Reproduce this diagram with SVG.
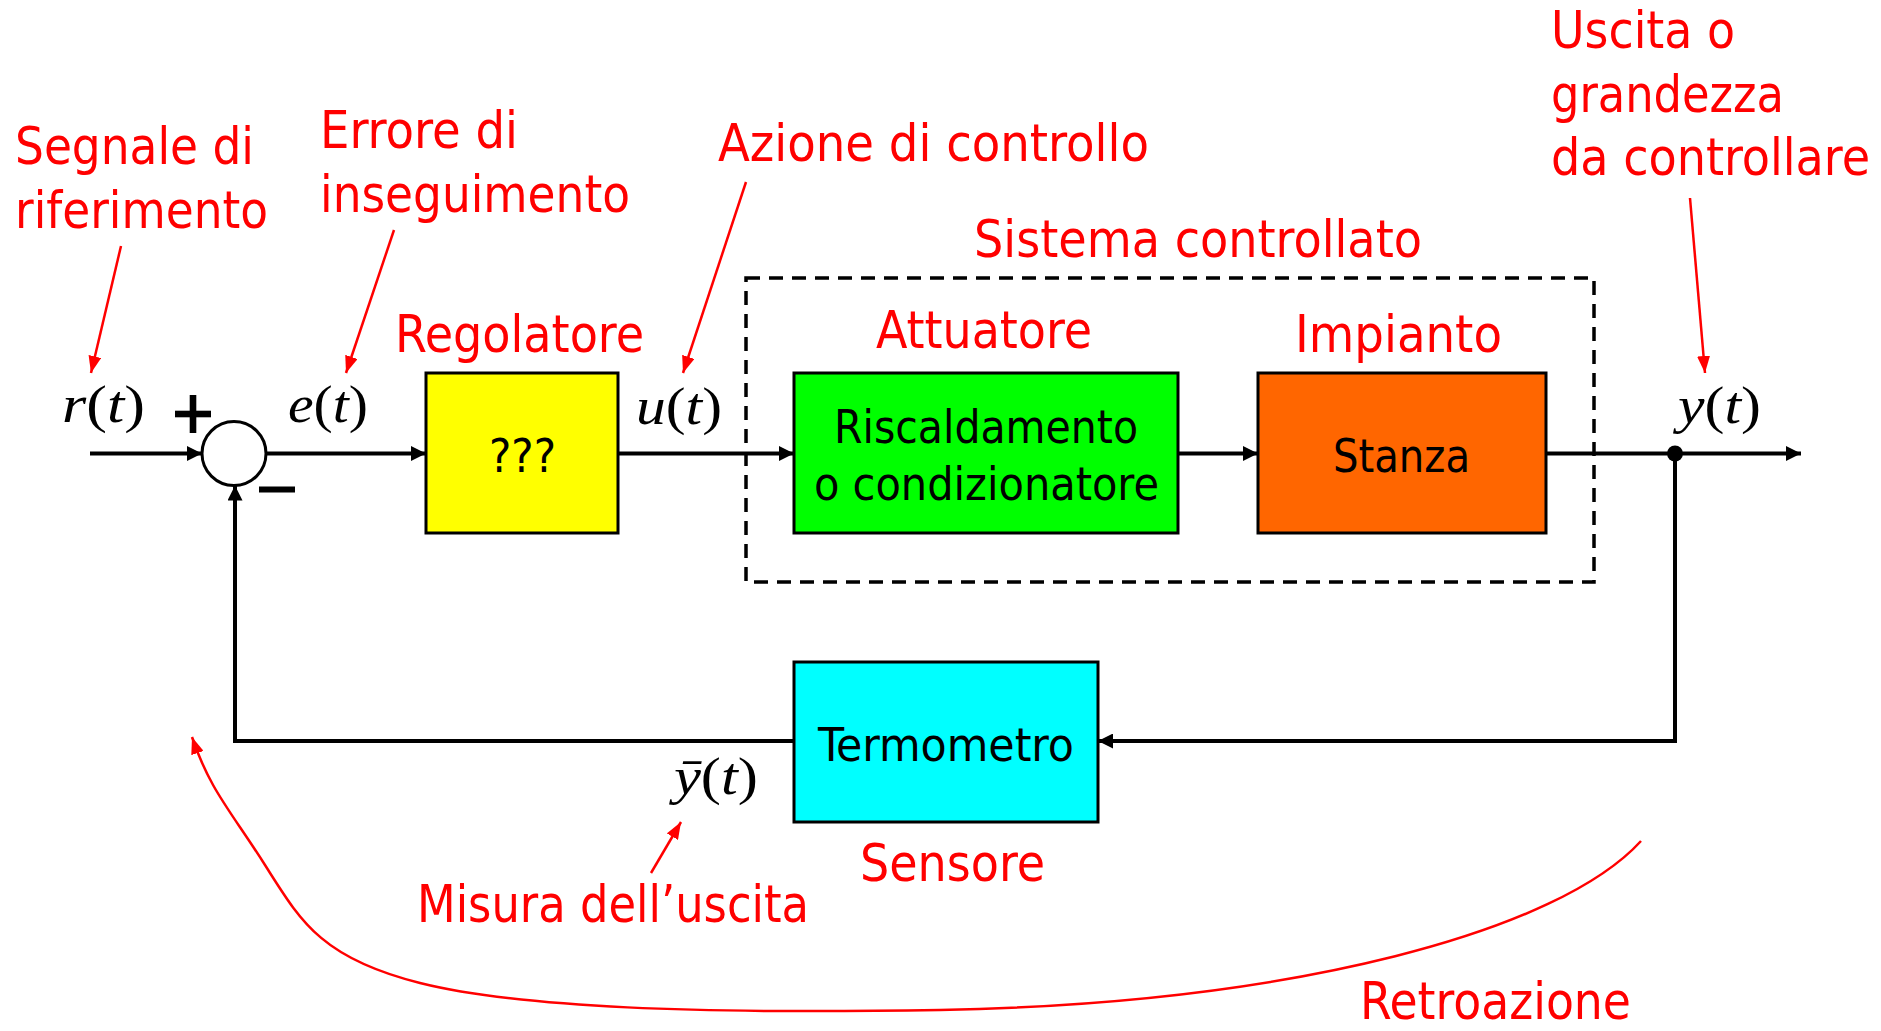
<svg xmlns="http://www.w3.org/2000/svg" width="1881" height="1031" viewBox="0 0 1881 1031">
<style>
.lbl{font-family:"DejaVu Sans Condensed","DejaVu Sans",sans-serif;font-size:51px;fill:#FF0000}
.box{stroke:#000;stroke-width:3}
.btxt{font-family:"DejaVu Sans Condensed","DejaVu Sans",sans-serif;font-size:46px;fill:#000}
.math{font-family:"Liberation Serif","DejaVu Serif",serif;font-size:52px;fill:#000}
.mi{font-style:italic}
.wire{fill:none;stroke:#000;stroke-width:4}
.red{fill:none;stroke:#FF0000;stroke-width:2.5}
</style>
<defs>
<marker id="ah" markerUnits="userSpaceOnUse" markerWidth="15" markerHeight="15" refX="15" refY="7.5" orient="auto"><path d="M0,0 L15,7.5 L0,15 z" fill="#000"/></marker>
<marker id="rh" markerUnits="userSpaceOnUse" markerWidth="17" markerHeight="13" refX="17" refY="6.5" orient="auto"><path d="M0,0 L17,6.5 L0,13 z" fill="#FF0000"/></marker>
</defs>
<rect width="1881" height="1031" fill="#fff"/>

<g id="system-boundary">
<rect x="746" y="278" width="848" height="304" fill="none" stroke="#000" stroke-width="3.5" stroke-dasharray="14 9"/>
</g>

<g id="connectors">
<path class="wire" d="M90,453.5 H202" marker-end="url(#ah)"/>
<path class="wire" d="M266,453.5 H426" marker-end="url(#ah)"/>
<path class="wire" d="M618,453.5 H794" marker-end="url(#ah)"/>
<path class="wire" d="M1178,453.5 H1258" marker-end="url(#ah)"/>
<path class="wire" d="M1546,453.5 H1801" marker-end="url(#ah)"/>
<path class="wire" d="M1675,453.5 V741 H1098" marker-end="url(#ah)"/>
<path class="wire" d="M794,741 H235 V485.5" marker-end="url(#ah)"/>
<circle cx="1675" cy="453.5" r="8" fill="#000"/>
</g>

<g id="sum">
<circle cx="234" cy="453.5" r="32" fill="#fff" stroke="#000" stroke-width="3"/>
<rect x="175" y="410.7" width="36" height="6.6" fill="#000"/>
<rect x="189.7" y="395" width="6.6" height="38" fill="#000"/>
<rect x="259" y="486.5" width="36" height="6" fill="#000"/>
</g>

<g id="regolatore">
<rect class="box" x="426" y="373" width="192" height="160" fill="#FFFF00"/>
<text class="btxt" x="489" y="472" textLength="67" lengthAdjust="spacingAndGlyphs">???</text>
</g>
<g id="attuatore">
<rect class="box" x="794" y="373" width="384" height="160" fill="#00FF00"/>
<text class="btxt" x="834" y="443" textLength="304" lengthAdjust="spacingAndGlyphs">Riscaldamento</text>
<text class="btxt" x="814" y="500" textLength="345" lengthAdjust="spacingAndGlyphs">o condizionatore</text>
</g>
<g id="impianto">
<rect class="box" x="1258" y="373" width="288" height="160" fill="#FF6600"/>
<text class="btxt" x="1333" y="472" textLength="137" lengthAdjust="spacingAndGlyphs">Stanza</text>
</g>
<g id="sensore">
<rect class="box" x="794" y="662" width="304" height="160" fill="#00FFFF"/>
<text class="btxt" x="818" y="761" textLength="256" lengthAdjust="spacingAndGlyphs">Termometro</text>
</g>

<g id="math-labels">
<text class="math" x="62" y="422" textLength="83" lengthAdjust="spacingAndGlyphs"><tspan class="mi">r</tspan>(<tspan class="mi">t</tspan>)</text>
<text class="math" x="288" y="422" textLength="80" lengthAdjust="spacingAndGlyphs"><tspan class="mi">e</tspan>(<tspan class="mi">t</tspan>)</text>
<text class="math" x="636" y="424" textLength="86" lengthAdjust="spacingAndGlyphs"><tspan class="mi">u</tspan>(<tspan class="mi">t</tspan>)</text>
<text class="math" x="1678" y="423" textLength="83" lengthAdjust="spacingAndGlyphs"><tspan class="mi">y</tspan>(<tspan class="mi">t</tspan>)</text>
<text class="math" x="674" y="794" textLength="84" lengthAdjust="spacingAndGlyphs"><tspan class="mi">ȳ</tspan>(<tspan class="mi">t</tspan>)</text>
</g>

<g id="annotations">
<text class="lbl" x="15" y="164" textLength="239" lengthAdjust="spacingAndGlyphs">Segnale di</text>
<text class="lbl" x="15" y="228" textLength="253" lengthAdjust="spacingAndGlyphs">riferimento</text>
<text class="lbl" x="320" y="148" textLength="198" lengthAdjust="spacingAndGlyphs">Errore di</text>
<text class="lbl" x="320" y="212" textLength="310" lengthAdjust="spacingAndGlyphs">inseguimento</text>
<text class="lbl" x="395" y="352" textLength="249" lengthAdjust="spacingAndGlyphs">Regolatore</text>
<text class="lbl" x="718" y="161" textLength="431" lengthAdjust="spacingAndGlyphs">Azione di controllo</text>
<text class="lbl" x="974" y="257" textLength="448" lengthAdjust="spacingAndGlyphs">Sistema controllato</text>
<text class="lbl" x="876" y="348" textLength="216" lengthAdjust="spacingAndGlyphs">Attuatore</text>
<text class="lbl" x="1295" y="352" textLength="207" lengthAdjust="spacingAndGlyphs">Impianto</text>
<text class="lbl" x="1551" y="48" textLength="184" lengthAdjust="spacingAndGlyphs">Uscita o</text>
<text class="lbl" x="1551" y="112" textLength="233" lengthAdjust="spacingAndGlyphs">grandezza</text>
<text class="lbl" x="1551" y="175" textLength="319" lengthAdjust="spacingAndGlyphs">da controllare</text>
<text class="lbl" x="860" y="881" textLength="185" lengthAdjust="spacingAndGlyphs">Sensore</text>
<text class="lbl" x="417" y="922" textLength="392" lengthAdjust="spacingAndGlyphs">Misura dell’uscita</text>
<text class="lbl" x="1360" y="1019" textLength="271" lengthAdjust="spacingAndGlyphs">Retroazione</text>
<path class="red" d="M121,246 L91,373" marker-end="url(#rh)"/>
<path class="red" d="M394,230 L346,373" marker-end="url(#rh)"/>
<path class="red" d="M746,182 L683,373" marker-end="url(#rh)"/>
<path class="red" d="M1690,198 L1705,373" marker-end="url(#rh)"/>
<path class="red" d="M651,873 L681,822" marker-end="url(#rh)"/>
<path class="red" d="M1641,841 C1560,930 1300,1003 940,1010 C700,1014 520,1008 420,983 S300,920 265,865 S210,790 192,737" marker-end="url(#rh)"/>
</g>
</svg>
